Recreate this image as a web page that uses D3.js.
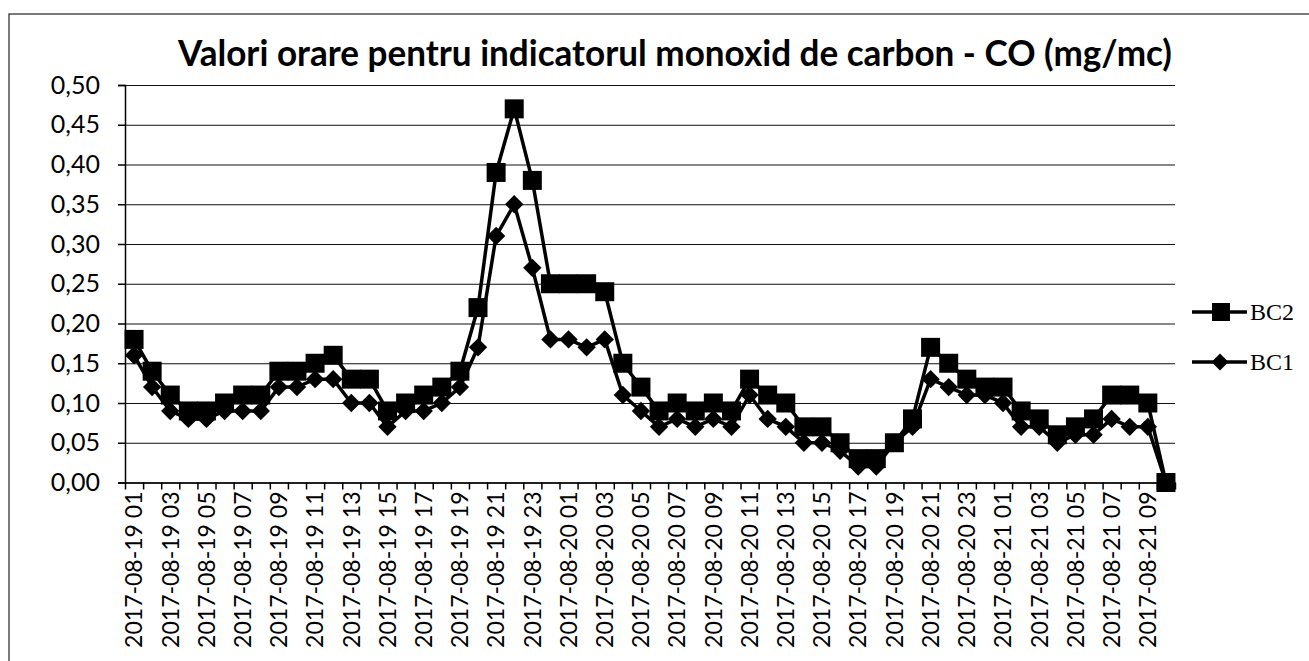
<!DOCTYPE html>
<html lang="ro">
<head>
    <meta charset="UTF-8">
    <title>Valori orare CO</title>
    <script src="https://d3js.org/d3.v7.min.js"></script>
    <style>
        body {
            margin: 0;
            background: #fff;
        }
        svg {
            display: block;
        }
        .grid line {
            stroke: #111;
            stroke-width: 1;
        }
        .ylab text {
            font-family: Lato, sans-serif;
            font-size: 25px;
            fill: #000;
        }
        .xlab text {
            font-family: Lato, sans-serif;
            font-size: 23px;
            fill: #000;
        }
        .legend text {
            font-family: "Liberation Serif", serif;
            font-size: 24px;
            fill: #000;
        }
    </style>
</head>
<body>
    <svg width="1309" height="661"></svg>

    <script>
        // categorii orare
        const categories = [
            "2017-08-19 01", "2017-08-19 02", "2017-08-19 03", "2017-08-19 04", "2017-08-19 05",
            "2017-08-19 06", "2017-08-19 07", "2017-08-19 08", "2017-08-19 09", "2017-08-19 10",
            "2017-08-19 11", "2017-08-19 12", "2017-08-19 13", "2017-08-19 14", "2017-08-19 15",
            "2017-08-19 16", "2017-08-19 17", "2017-08-19 18", "2017-08-19 19", "2017-08-19 20",
            "2017-08-19 21", "2017-08-19 22", "2017-08-19 23",
            "2017-08-20 00", "2017-08-20 01", "2017-08-20 02", "2017-08-20 03", "2017-08-20 04",
            "2017-08-20 05", "2017-08-20 06", "2017-08-20 07", "2017-08-20 08", "2017-08-20 09",
            "2017-08-20 10", "2017-08-20 11", "2017-08-20 12", "2017-08-20 13", "2017-08-20 14",
            "2017-08-20 15", "2017-08-20 16", "2017-08-20 17", "2017-08-20 18", "2017-08-20 19",
            "2017-08-20 20", "2017-08-20 21", "2017-08-20 22", "2017-08-20 23",
            "2017-08-21 00", "2017-08-21 01", "2017-08-21 02", "2017-08-21 03", "2017-08-21 04",
            "2017-08-21 05", "2017-08-21 06", "2017-08-21 07", "2017-08-21 08", "2017-08-21 09",
            "2017-08-21 10"
        ];

        const bc2 = [
            0.18, 0.14, 0.11, 0.09, 0.09, 0.10, 0.11, 0.11, 0.14, 0.14,
            0.15, 0.16, 0.13, 0.13, 0.09, 0.10, 0.11, 0.12, 0.14, 0.22,
            0.39, 0.47, 0.38, 0.25, 0.25, 0.25, 0.24, 0.15, 0.12, 0.09,
            0.10, 0.09, 0.10, 0.09, 0.13, 0.11, 0.10, 0.07, 0.07, 0.05,
            0.03, 0.03, 0.05, 0.08, 0.17, 0.15, 0.13, 0.12, 0.12, 0.09,
            0.08, 0.06, 0.07, 0.08, 0.11, 0.11, 0.10, 0.00
        ];

        const bc1 = [
            0.16, 0.12, 0.09, 0.08, 0.08, 0.09, 0.09, 0.09, 0.12, 0.12,
            0.13, 0.13, 0.10, 0.10, 0.07, 0.09, 0.09, 0.10, 0.12, 0.17,
            0.31, 0.35, 0.27, 0.18, 0.18, 0.17, 0.18, 0.11, 0.09, 0.07,
            0.08, 0.07, 0.08, 0.07, 0.11, 0.08, 0.07, 0.05, 0.05, 0.04,
            0.02, 0.02, 0.05, 0.07, 0.13, 0.12, 0.11, 0.11, 0.10, 0.07,
            0.07, 0.05, 0.06, 0.06, 0.08, 0.07, 0.07, 0.00
        ];

        const yTicks = [0, 0.05, 0.10, 0.15, 0.20, 0.25, 0.30, 0.35, 0.40, 0.45, 0.50];
        const seriesNames = ["BC2", "BC1"];
        const titleText = "Valori orare pentru indicatorul monoxid de carbon - CO (mg/mc)";

        // every second category gets a label
        const xLabels = categories.filter((d, i) => i % 2 === 0);

        const width = 1309;
        const height = 661;
        const plot = { left: 125, right: 1175, top: 85, bottom: 482.5 };

        const svg = d3.select("svg");

        // chart frame (right/bottom edges are outside the picture)
        svg.append("rect")
            .attr("x", 9).attr("y", 14)
            .attr("width", width).attr("height", height)
            .attr("fill", "none")
            .attr("stroke", "#222")
            .attr("stroke-width", 1.2);

        const x = d3.scaleBand()
            .domain(categories)
            .range([plot.left, plot.right])
            .padding(0);

        const xIdx = d3.scaleLinear()
            .domain([0, categories.length])
            .range([plot.left, plot.right]);

        const y = d3.scaleLinear()
            .domain([0, 0.5])
            .range([plot.bottom, plot.top]);

        const fmt = d => d3.format(".2f")(d).replace(".", ",");

        // horizontal gridlines
        svg.append("g")
            .attr("class", "grid")
            .attr("transform", `translate(${plot.left},0)`)
            .call(d3.axisLeft(y).tickValues(yTicks).tickSize(-(plot.right - plot.left)).tickFormat(""))
            .call(g => g.select(".domain").remove());

        // y axis with labels
        svg.append("g")
            .attr("class", "ylab")
            .attr("transform", `translate(${plot.left},0)`)
            .call(d3.axisLeft(y).tickValues(yTicks).tickSize(7).tickPadding(18).tickFormat(fmt))
            .call(g => g.selectAll("line, path").attr("stroke", "#000").attr("stroke-width", 1.5));

        // x tick marks at category boundaries
        svg.append("g")
            .attr("transform", `translate(0,${plot.bottom})`)
            .call(d3.axisBottom(xIdx).ticks(categories.length).tickValues(d3.range(categories.length + 1)).tickSize(7).tickFormat("").tickSizeOuter(0))
            .call(g => g.selectAll("line, path").attr("stroke", "#000").attr("stroke-width", 1.5));

        // x labels, rotated
        svg.append("g")
            .attr("class", "xlab")
            .attr("transform", `translate(0,${plot.bottom})`)
            .call(d3.axisBottom(x).tickValues(xLabels).tickSize(0))
            .call(g => g.select(".domain").remove())
            .selectAll("text")
            .attr("transform", "rotate(-90)")
            .attr("x", -9)
            .attr("y", 0)
            .attr("dy", "0.36em")
            .style("text-anchor", "end");

        const cx = (d, i) => x(categories[i]) + x.bandwidth() / 2;

        const line = d3.line()
            .x(cx)
            .y(d => y(d));

        const squareSym = d3.symbol(d3.symbolSquare, 19 * 19);
        const diamondSym = d3.symbol(d3.symbolSquare, 13 * 13);

        // BC2 first, BC1 drawn on top
        svg.append("path")
            .datum(bc2)
            .attr("d", line)
            .attr("fill", "none")
            .attr("stroke", "#000")
            .attr("stroke-width", 3.5);

        svg.append("g")
            .selectAll("path")
            .data(bc2)
            .join("path")
            .attr("d", squareSym)
            .attr("transform", (d, i) => `translate(${cx(d, i)},${y(d)})`)
            .attr("fill", "#000");

        svg.append("path")
            .datum(bc1)
            .attr("d", line)
            .attr("fill", "none")
            .attr("stroke", "#000")
            .attr("stroke-width", 3.5);

        svg.append("g")
            .selectAll("path")
            .data(bc1)
            .join("path")
            .attr("d", diamondSym)
            .attr("transform", (d, i) => `translate(${cx(d, i)},${y(d)}) rotate(45)`)
            .attr("fill", "#000");

        // title
        svg.append("text")
            .attr("x", (178 + 1172) / 2)
            .attr("y", 66)
            .attr("text-anchor", "middle")
            .attr("textLength", 994)
            .attr("lengthAdjust", "spacingAndGlyphs")
            .style("font-family", "Lato, sans-serif")
            .style("font-weight", "bold")
            .style("font-size", "36px")
            .text(titleText);

        // legend
        const legend = svg.append("g").attr("class", "legend");
        const legendY = [312, 362];
        const legendSym = [d3.symbol(d3.symbolSquare, 18 * 18), d3.symbol(d3.symbolSquare, 12 * 12)];

        seriesNames.forEach((name, i) => {
            const g = legend.append("g").attr("transform", `translate(0,${legendY[i]})`);
            g.append("line")
                .attr("x1", 1192).attr("x2", 1247)
                .attr("stroke", "#000")
                .attr("stroke-width", 3.5);
            g.append("path")
                .attr("d", legendSym[i])
                .attr("transform", i === 0 ? "translate(1221,0)" : "translate(1220,0) rotate(45)")
                .attr("fill", "#000");
            g.append("text")
                .attr("x", 1250)
                .attr("dy", "0.35em")
                .text(name);
        });
    </script>
</body>
</html>
